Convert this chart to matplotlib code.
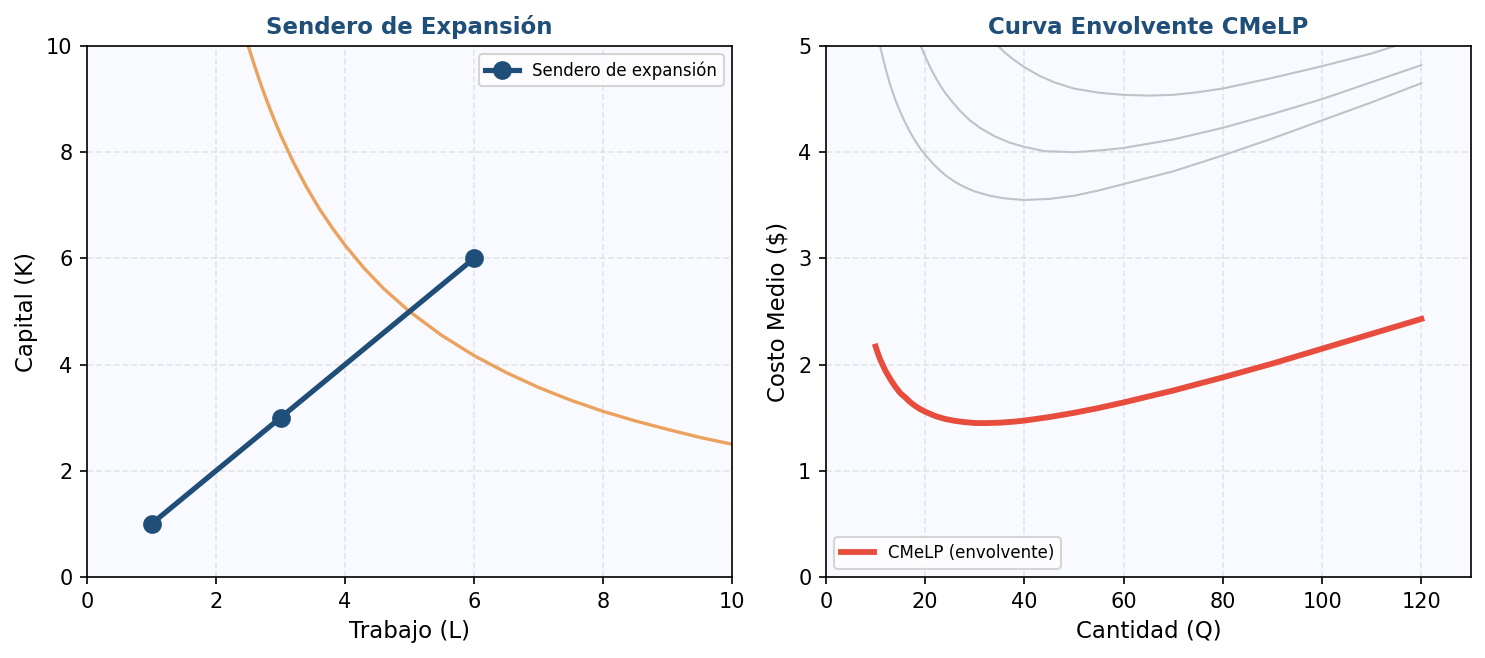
import matplotlib
matplotlib.use("Agg")
import matplotlib.pyplot as plt

# Left panel data
path_L = [1, 3, 6]
path_K = [1, 3, 6]
iso_L = [2.5, 2.6, 2.7, 2.8, 2.9, 3.0, 3.2, 3.4, 3.6, 3.8, 4.0, 4.3, 4.6, 5.0, 5.5, 6.0, 6.5, 7.0, 7.5, 8.0, 8.5, 9.0, 9.5, 10.0]
iso_K = [10.0, 9.62, 9.26, 8.93, 8.62, 8.33, 7.81, 7.35, 6.94, 6.58, 6.25, 5.81, 5.43, 5.0, 4.55, 4.17, 3.85, 3.57, 3.33, 3.12, 2.94, 2.78, 2.63, 2.5]

# Right panel data
lr_Q = [10, 10.5, 11, 11.5, 12, 13, 14, 15, 16, 17, 18, 19, 20, 22, 24, 26, 28, 30, 32, 35, 38, 40, 45, 50, 55, 60, 70, 80, 90, 100, 110, 120]
lr_C = [2.17, 2.10, 2.04, 1.99, 1.94, 1.86, 1.79, 1.73, 1.69, 1.645, 1.61, 1.58, 1.556, 1.516, 1.488, 1.47, 1.458, 1.45, 1.449, 1.453, 1.463, 1.473, 1.506, 1.546, 1.592, 1.644, 1.756, 1.88, 2.01, 2.15, 2.29, 2.43]

sr1_Q = [10.5, 11, 11.5, 12, 12.5, 13, 14, 15, 16, 17, 18, 19, 20, 22, 24, 26, 28, 30, 33, 36, 40, 45, 50, 55, 60, 70, 80, 90, 100, 110, 120]
sr1_C = [5.09, 4.98, 4.88, 4.79, 4.705, 4.625, 4.49, 4.375, 4.275, 4.185, 4.105, 4.035, 3.975, 3.87, 3.785, 3.72, 3.67, 3.63, 3.59, 3.565, 3.55, 3.56, 3.59, 3.64, 3.70, 3.82, 3.97, 4.13, 4.30, 4.47, 4.65]

sr2_Q = [18, 19, 20, 21, 22, 23, 24, 25, 27, 29, 31, 34, 37, 40, 44, 50, 56, 60, 70, 80, 90, 100, 110, 120]
sr2_C = [5.14, 5.01, 4.90, 4.80, 4.71, 4.63, 4.56, 4.50, 4.39, 4.30, 4.23, 4.15, 4.09, 4.05, 4.01, 4.0, 4.02, 4.04, 4.12, 4.23, 4.36, 4.50, 4.66, 4.82]

sr3_Q = [33, 34.7, 36, 38, 40, 43, 46, 50, 55, 60, 65, 70, 75, 80, 90, 100, 110, 120]
sr3_C = [5.09, 5.0, 4.94, 4.865, 4.80, 4.72, 4.658, 4.599, 4.56, 4.54, 4.533, 4.54, 4.565, 4.60, 4.70, 4.81, 4.93, 5.08]

navy = "#1f4e79"
orange = "#eca25f"
red = "#e74c3c"
gray = "#bdc3c7"
bg = "#f8faff"

plt.rcParams['font.family'] = ['DejaVu Sans']
fig = plt.figure(figsize=(9.9, 4.3867), dpi=150)
ax1 = fig.add_axes([87/1485, 1-577/658, 645/1485, 531/658])
ax2 = fig.add_axes([826/1485, 1-577/658, 645/1485, 531/658])

for ax in (ax1, ax2):
    ax.set_facecolor(bg)
    ax.grid(True, linestyle='--', color='#d5d8dc', alpha=0.6, linewidth=0.8)
    ax.set_axisbelow(True)

ax1.plot(iso_L, iso_K, color=orange, linewidth=1.6)
ax1.plot(path_L, path_K, color=navy, linewidth=2.5, marker='o', markersize=8, label='Sendero de expansión')
ax1.set_xlim(0, 10)
ax1.set_ylim(0, 10)
ax1.set_xlabel('Trabajo (L)', fontsize=11)
ax1.set_ylabel('Capital (K)', fontsize=11)
ax1.set_title('Sendero de Expansión', fontsize=11, fontweight='bold', color=navy)
ax1.legend(loc='upper right', fontsize=8)

for q, c in ((sr1_Q, sr1_C), (sr2_Q, sr2_C), (sr3_Q, sr3_C)):
    ax2.plot(q, c, color=gray, linewidth=1.0)
ax2.plot(lr_Q, lr_C, color=red, linewidth=2.8, label='CMeLP (envolvente)')
ax2.set_xlim(0, 130)
ax2.set_ylim(0, 5)
ax2.set_xticks([0, 20, 40, 60, 80, 100, 120])
ax2.set_xlabel('Cantidad (Q)', fontsize=11)
ax2.set_ylabel('Costo Medio ($)', fontsize=11)
ax2.set_title('Curva Envolvente CMeLP', fontsize=11, fontweight='bold', color=navy)
ax2.legend(loc='lower left', fontsize=8)

fig.savefig('out.png', dpi=150, facecolor='white')
